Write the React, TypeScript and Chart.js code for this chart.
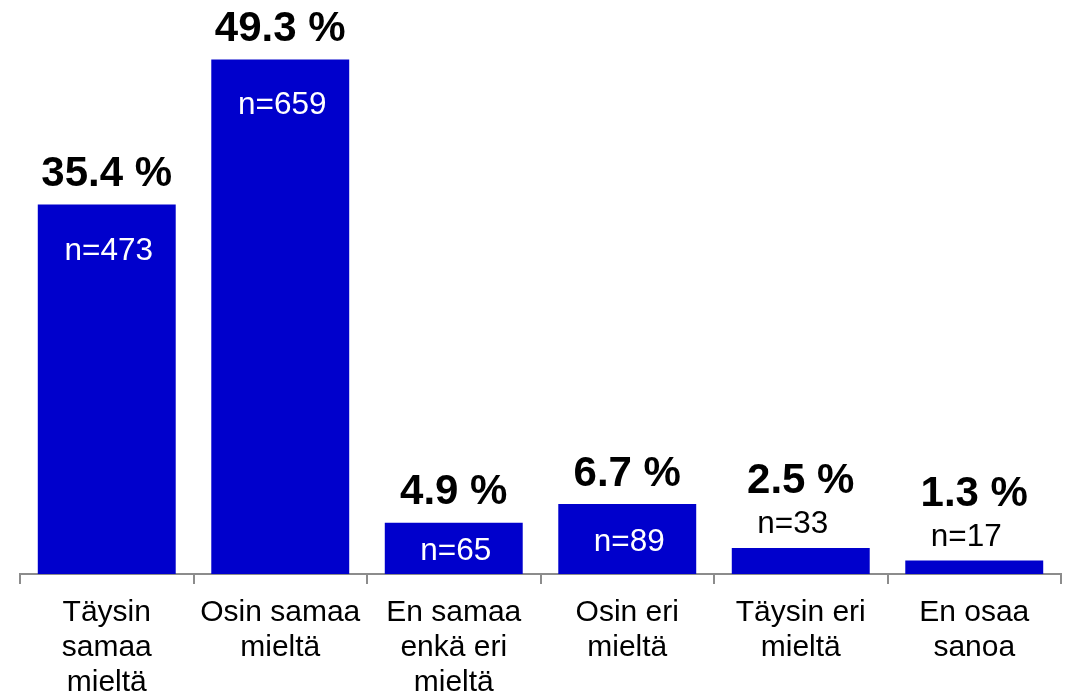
import React, { useEffect, useRef } from "react";
import { Chart, registerables } from "chart.js";

Chart.register(...registerables);

const categories: string[][] = [
  ["Täysin", "samaa", "mieltä"],
  ["Osin samaa", "mieltä"],
  ["En samaa", "enkä eri", "mieltä"],
  ["Osin eri", "mieltä"],
  ["Täysin eri", "mieltä"],
  ["En osaa", "sanoa"],
];
const percentages: number[] = [35.4, 49.3, 4.9, 6.7, 2.5, 1.3];
const counts: number[] = [473, 659, 65, 89, 33, 17];

const FONT = "'Liberation Sans', Arial, Helvetica, sans-serif";

const labelPlugin = {
  id: "barLabels",
  afterDatasetsDraw(chart: any) {
    const ctx = chart.ctx;
    const meta = chart.getDatasetMeta(0);
    ctx.save();
    ctx.textAlign = "center";
    ctx.textBaseline = "alphabetic";
    meta.data.forEach((bar: any, i: number) => {
      const top = bar.y;
      const base = bar.base;
      const h = base - top;
      const x = bar.x;
      const pctText = percentages[i].toFixed(1) + " %";
      const nText = "n=" + counts[i];
      if (h > 40) {
        ctx.font = `31.5px ${FONT}`;
        ctx.fillStyle = "#ffffff";
        const nBase = Math.min(top + 55, (top + base) / 2 + 12);
        ctx.fillText(nText, x + 2, nBase);
        ctx.font = `bold 42px ${FONT}`;
        ctx.fillStyle = "#000000";
        ctx.fillText(pctText, x, top - 18.5);
      } else {
        ctx.font = `31.5px ${FONT}`;
        ctx.fillStyle = "#000000";
        ctx.fillText(nText, x - 8, top - 14.5);
        ctx.font = `bold 42px ${FONT}`;
        ctx.fillText(pctText, x, top - 54.5);
      }
    });
    ctx.restore();
  },
};

export default function App() {
  const ref = useRef<HTMLCanvasElement>(null);
  useEffect(() => {
    if (!ref.current) return;
    const chart = new Chart(ref.current, {
      type: "bar",
      data: {
        labels: categories,
        datasets: [
          {
            data: percentages,
            backgroundColor: "#0000CC",
            borderWidth: 0,
            barPercentage: 0.795,
            categoryPercentage: 1,
          },
        ],
      },
      options: {
        animation: false,
        responsive: true,
        maintainAspectRatio: false,
        layout: { padding: { left: 20, right: 10, top: 0, bottom: 0 } },
        plugins: {
          legend: { display: false },
          tooltip: { enabled: false },
        },
        scales: {
          x: {
            grid: {
              display: true,
              drawOnChartArea: false,
              drawTicks: true,
              tickLength: 10,
              offset: true,
              color: "#8c8c8c",
              lineWidth: 2,
            },
            border: { display: true, color: "#8c8c8c", width: 2 },
            ticks: {
              color: "#000000",
              font: { family: FONT, size: 30, lineHeight: 1.17 },
              padding: 11,
              maxRotation: 0,
              autoSkip: false,
            },
            afterFit: (scale: any) => {
              scale.height = 122;
            },
          },
          y: {
            display: false,
            min: 0,
            max: 55,
          },
        },
      },
      plugins: [labelPlugin],
    });
    return () => chart.destroy();
  }, []);
  return (
    <div style={{ position: "absolute", left: 0, top: 0, width: 1071, height: 696, background: "#fff" }}>
      <canvas ref={ref} />
    </div>
  );
}
